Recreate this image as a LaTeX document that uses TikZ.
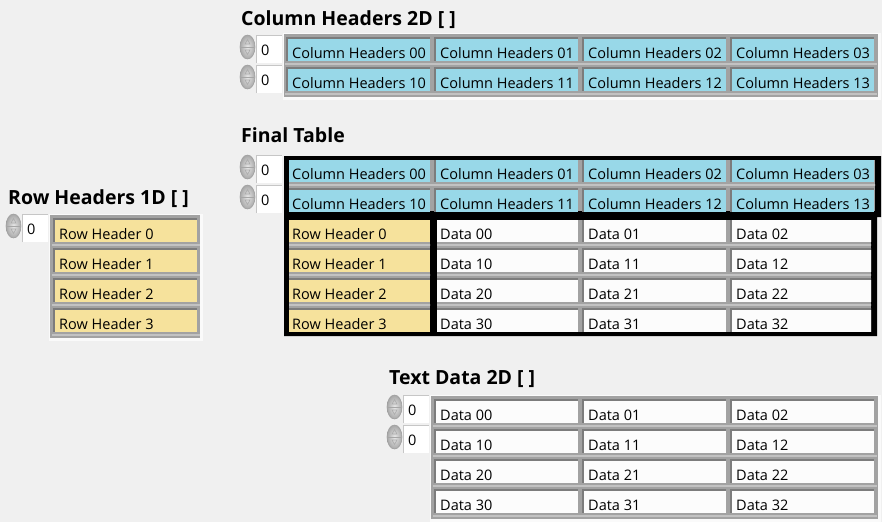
\documentclass[tikz,border=0pt]{standalone}
\usepackage{fontspec}
\setmainfont{Open Sans}
\definecolor{lvbg}{HTML}{F0F0F0}
\definecolor{lvgray}{HTML}{A2A2A2}
\definecolor{lvdark}{HTML}{7C7C7C}
\definecolor{lvlight}{HTML}{C2C2C2}
\definecolor{lvcyan}{HTML}{98D8E8}
\definecolor{lvyellow}{HTML}{F6E29C}
\definecolor{lvwhite}{HTML}{FCFCFC}
\definecolor{lvshadow}{HTML}{FAFAFA}
\tikzset{
  celltext/.style={anchor=base west, inner sep=0pt, font=\fontsize{14.5}{17}\selectfont, text=black},
  titletext/.style={anchor=base west, inner sep=0pt, font=\fontsize{19.5}{23}\selectfont\bfseries, text=black},
}
% #1 x0, #2 y0, #3 fill, #4 text, #5 name
\newcommand\lvcell[5]{%
  \fill[lvlight] (#1,#2+27) rectangle (#1+148,#2+29);
  \fill[lvdark] (#1+1,#2+1) rectangle (#1+145,#2+25);
  \fill[#3] (#1+3,#2+3) rectangle (#1+145,#2+25);
  \node[celltext] (#5) at (#1+7,#2+22) {#4};
}
% #1 spinner left x, #2 top y, #3 name
\newcommand\lvindex[3]{%
  \fill[white] (#1+16,#2) rectangle (#1+42,#2+28);
  \draw[gray!45, line width=1pt] (#1+16.5,#2+28) -- (#1+16.5,#2+0.5) -- (#1+42,#2+0.5);
  \shadedraw[inner color=gray!18, outer color=gray!68, draw=gray!75, line width=0.6pt] (#1+7.5,#2+12) ellipse [x radius=7.5pt, y radius=12pt];
  \draw[gray!70, line width=0.5pt] (#1+1,#2+12) -- (#1+14,#2+12);
  \draw[gray!65, line width=0.6pt] (#1+5,#2+9) -- (#1+7.5,#2+4.5) -- (#1+10,#2+9) -- cycle;
  \draw[gray!65, line width=0.6pt] (#1+5,#2+15) -- (#1+7.5,#2+19.5) -- (#1+10,#2+15) -- cycle;
  \node[celltext] (#3) at (#1+21,#2+20) {0};
}
\begin{document}
\begin{tikzpicture}[x=1pt,y=-1pt]
\useasboundingbox (0,0) rectangle (882,522);
\fill[lvbg] (0,0) rectangle (882,522);

% ---------- Column Headers 2D ----------
\node[titletext] (t1) at (241,25) {Column Headers 2D [ ]};
\lvindex{240}{35}{c2di}
\lvindex{240}{65}{c2dj}
\fill[lvshadow] (283,33) rectangle (881,100);
\fill[lvgray] (284,34) rectangle (878,97);
\foreach \i in {0,1}{\foreach \j in {0,...,3}{%
  \lvcell{285+148*\j}{36+30*\i}{lvcyan}{Column Headers \i\j}{ch\i\j}}}

% ---------- Final Table ----------
\node[titletext] (t2) at (241,142) {Final Table};
\lvindex{240}{155}{fti}
\lvindex{240}{185}{ftj}
\fill[black] (284,156) -- (881,156) -- (881,217) -- (877,217) -- (877,336) -- (284,336) -- cycle;
\begin{scope}
  \clip (289,160) rectangle (875,211);
  \fill[lvgray] (289,160) rectangle (875,211);
  \foreach \i in {0,1}{\foreach \j in {0,...,3}{%
    \lvcell{285+148*\j}{157+30*\i}{lvcyan}{Column Headers \i\j}{fh\i\j}}}
\end{scope}
\begin{scope}
  \clip (289,220) rectangle (430,332);
  \fill[lvgray] (289,220) rectangle (430,332);
  \foreach \i in {0,...,3}{%
    \lvcell{285}{217+30*\i}{lvyellow}{Row Header \i}{fr\i}}
\end{scope}
\begin{scope}
  \clip (437,220) rectangle (871,332);
  \fill[lvgray] (437,220) rectangle (871,332);
  \foreach \i in {0,...,3}{\foreach \j in {0,1,2}{%
    \lvcell{433+148*\j}{217+30*\i}{lvwhite}{Data \i\j}{fd\i\j}}}
\end{scope}

% ---------- Row Headers 1D ----------
\node[titletext] (t3) at (8,204) {Row Headers 1D [ ]};
\lvindex{6}{214}{r1i}
\fill[lvshadow] (49,214) rectangle (203,341);
\fill[lvgray] (50,215) rectangle (200,338);
\foreach \i in {0,...,3}{%
  \lvcell{52}{217+30*\i}{lvyellow}{Row Header \i}{rh\i}}

% ---------- Text Data 2D ----------
\node[titletext] (t4) at (389,384) {Text Data 2D [ ]};
\lvindex{387}{395}{tdi}
\lvindex{387}{425}{tdj}
\fill[lvshadow] (430,395) rectangle (881,522);
\fill[lvgray] (431,396) rectangle (878,519);
\foreach \i in {0,...,3}{\foreach \j in {0,1,2}{%
  \lvcell{433+148*\j}{398+30*\i}{lvwhite}{Data \i\j}{td\i\j}}}
\end{tikzpicture}
\end{document}
